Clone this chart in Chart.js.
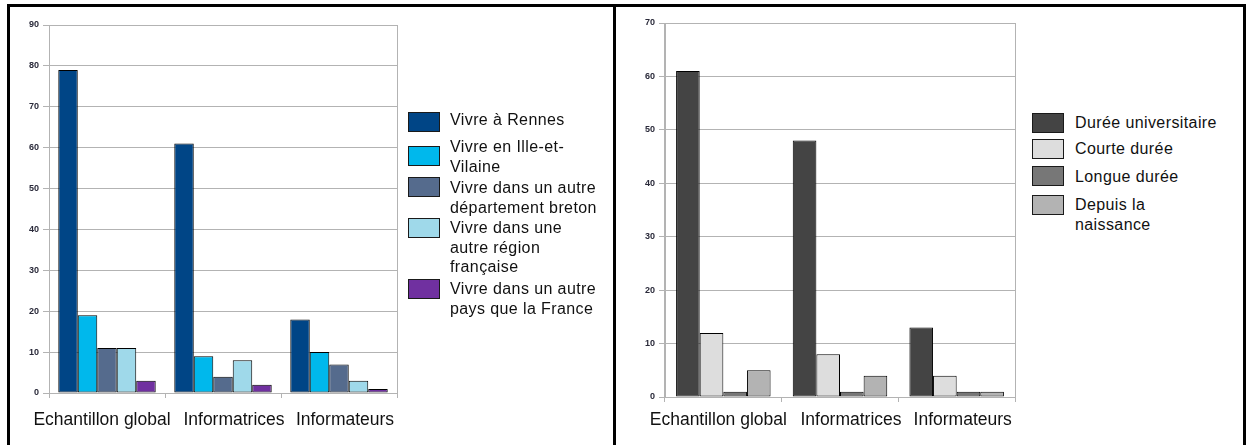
<!DOCTYPE html>
<html lang="fr">
<head>
<meta charset="utf-8">
<title>Lieu de vie et durée de séjour</title>
<script src="https://cdn.jsdelivr.net/npm/chart.js@4.4.1/dist/chart.umd.min.js"></script>
<style>
  html, body { margin: 0; padding: 0; background: #fff; width: 1249px; height: 445px; overflow: hidden; }
  body { position: relative; font-family: "Liberation Sans", Arial, sans-serif; }
  .frame { position: absolute; left: 7px; top: 4px; width: 1239px; height: 470px; border: 3px solid #000; box-sizing: border-box; }
  .divider { position: absolute; left: 613px; top: 4px; width: 3px; height: 470px; background: #000; }
  canvas { position: absolute; }
  #chartLieu { left: 11px; top: 8px; }
  #chartDuree { left: 617px; top: 8px; }
  .legend { position: absolute; top: 0; color: #111; font-size: 16px; letter-spacing: 0.4px; line-height: 19.5px; }
  .legend .swatch { position: absolute; left: 0; width: 32px; height: 20px; box-sizing: border-box; border: 1.5px solid #1a1a1a; }
  .legend .text { position: absolute; white-space: nowrap; }
</style>
</head>
<body>
<div class="frame"></div>
<div class="divider"></div>
<canvas id="chartLieu" width="400" height="437"></canvas>
<canvas id="chartDuree" width="410" height="437"></canvas>
<div class="legend" id="legendLieu" style="left:408px"></div>
<div class="legend" id="legendDuree" style="left:1032px"></div>

<script>
// catégories communes aux deux graphiques
const groupes = ['Echantillon global', 'Informatrices', 'Informateurs'];

// lieu de vie (graphique de gauche)
const vivreRennes = [79, 61, 18];
const vivreIlleEtVilaine = [19, 9, 10];
const vivreAutreDepartement = [11, 4, 7];
const vivreAutreRegion = [11, 8, 3];
const vivreAutrePays = [3, 2, 1];

// durée de séjour (graphique de droite)
const dureeUniversitaire = [61, 48, 13];
const courteDuree = [12, 8, 4];
const longueDuree = [1, 1, 1];
const depuisNaissance = [5, 4, 1];

// graduations des axes verticaux
const ticksLieu = [0, 10, 20, 30, 40, 50, 60, 70, 80, 90];
const ticksDuree = [0, 10, 20, 30, 40, 50, 60, 70];

const GRILLE = '#b3b3b3';
const POLICE = '"Liberation Sans", Arial, sans-serif';

const seriesLieu = [
    { lignes: ['Vivre à Rennes'], data: vivreRennes, couleur: '#004586' },
    { lignes: ['Vivre en Ille-et-', 'Vilaine'], data: vivreIlleEtVilaine, couleur: '#00b8ec' },
    { lignes: ['Vivre dans un autre', 'département breton'], data: vivreAutreDepartement, couleur: '#556b8d' },
    { lignes: ['Vivre dans une', 'autre région', 'française'], data: vivreAutreRegion, couleur: '#9fd9ea' },
    { lignes: ['Vivre dans un autre', 'pays que la France'], data: vivreAutrePays, couleur: '#7030a0' }
];

const seriesDuree = [
    { lignes: ['Durée universitaire'], data: dureeUniversitaire, couleur: '#444444' },
    { lignes: ['Courte durée'], data: courteDuree, couleur: '#dddddd' },
    { lignes: ['Longue durée'], data: longueDuree, couleur: '#777777' },
    { lignes: ['Depuis la', 'naissance'], data: depuisNaissance, couleur: '#b3b3b3' }
];

function nomSerie(lignes) {
    return lignes.join(' ').replace(/- /g, '-');
}

// les libellés des groupes sont écartés les uns des autres, pas tout à fait centrés sous les barres
const etiquettesGroupes = {
    id: 'etiquettesGroupes',
    afterDraw(chart, args, opts) {
        const x = chart.scales.x;
        const ctx = chart.ctx;
        ctx.save();
        ctx.font = '17.5px ' + POLICE;
        ctx.fillStyle = '#111';
        ctx.textAlign = 'center';
        ctx.textBaseline = 'alphabetic';
        chart.data.labels.forEach((lab, i) => {
            ctx.fillText(lab, x.getPixelForTick(i) + opts.decalages[i], x.top + opts.ligneBase);
        });
        ctx.restore();
    }
};

function creerGraphique(id, series, ticks, mise) {
    const ctx = document.getElementById(id).getContext('2d');
    return new Chart(ctx, {
        type: 'bar',
        data: {
            labels: groupes,
            datasets: series.map(s => ({
                label: nomSerie(s.lignes),
                data: s.data,
                backgroundColor: s.couleur,
                borderColor: '#000',
                borderWidth: 1,
                borderSkipped: false
            }))
        },
        options: {
            responsive: false,
            animation: false,
            categoryPercentage: mise.groupe,
            barPercentage: 1,
            layout: { padding: { top: mise.haut, right: mise.droite, left: 0, bottom: 0 } },
            plugins: {
                legend: { display: false },
                tooltip: { enabled: false },
                etiquettesGroupes: { decalages: [-5, 11, 6], ligneBase: mise.ligneBase }
            },
            scales: {
                x: {
                    grid: {
                        offset: true,
                        // seuls les bords du cadre sont tracés, les séparations gardent leur petit trait
                        color: c => (c.index === undefined || c.index === 0) ? GRILLE : 'transparent',
                        tickColor: GRILLE,
                        tickLength: 5
                    },
                    border: { color: GRILLE },
                    ticks: { display: false },
                    afterFit: scale => { scale.height = mise.hauteurX; }
                },
                y: {
                    min: ticks[0],
                    max: ticks[ticks.length - 1],
                    afterBuildTicks: scale => { scale.ticks = ticks.map(v => ({ value: v })); },
                    grid: { color: GRILLE, tickLength: 6 },
                    border: { color: GRILLE },
                    ticks: {
                        color: '#2a2a3a',
                        padding: 4,
                        font: { family: POLICE, size: 9, weight: 'bold' }
                    },
                    afterFit: scale => { scale.width = mise.largeurY; }
                }
            }
        },
        plugins: [etiquettesGroupes]
    });
}

// légende en HTML pour pouvoir couper les libellés sur plusieurs lignes
function creerLegende(id, series, lignesHaut, carresHaut, decalTexte) {
    const boite = document.getElementById(id);
    series.forEach((s, i) => {
        const carre = document.createElement('div');
        carre.className = 'swatch';
        carre.style.top = carresHaut[i] + 'px';
        carre.style.background = s.couleur;
        boite.appendChild(carre);

        const texte = document.createElement('div');
        texte.className = 'text';
        texte.style.left = decalTexte + 'px';
        texte.style.top = lignesHaut[i] + 'px';
        texte.innerHTML = s.lignes.join('<br>');
        boite.appendChild(texte);
    });
}

creerGraphique('chartLieu', seriesLieu, ticksLieu, {
    groupe: 0.84, haut: 17, droite: 14, largeurY: 38, hauteurX: 52, ligneBase: 32
});
creerGraphique('chartDuree', seriesDuree, ticksDuree, {
    groupe: 0.81, haut: 15, droite: 12, largeurY: 48, hauteurX: 48, ligneBase: 28
});

creerLegende('legendLieu', seriesLieu, [110, 137, 178, 218, 279], [112, 146, 177, 218, 279], 42);
creerLegende('legendDuree', seriesDuree, [113, 139, 167, 195], [113, 139, 166, 195], 43);
</script>
</body>
</html>
